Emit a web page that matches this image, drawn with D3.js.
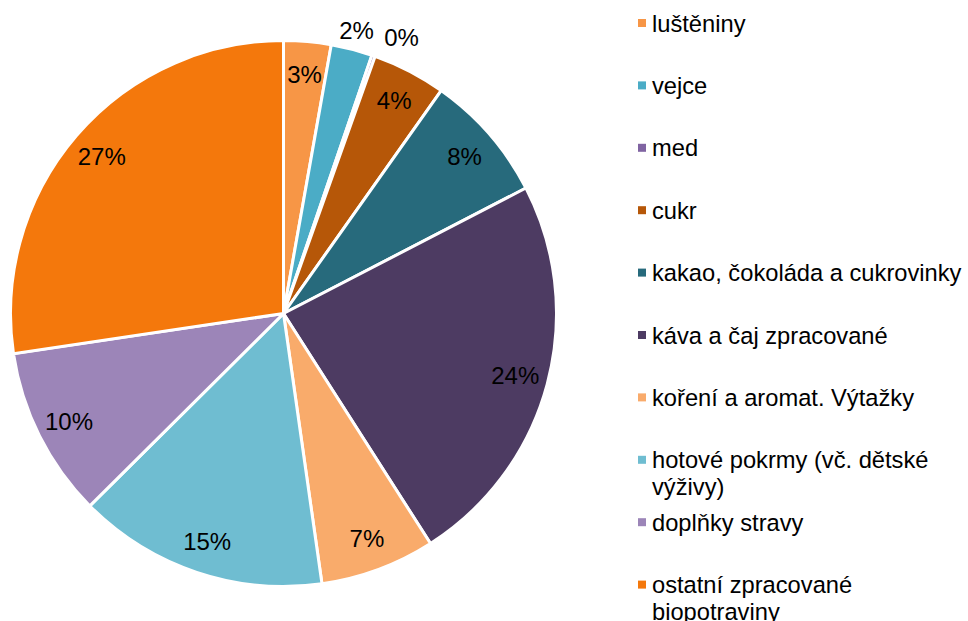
<!DOCTYPE html>
<html>
<head>
  <meta charset="utf-8">
  <title>biopotraviny - podíl</title>
  <script src="https://cdn.jsdelivr.net/npm/d3@7"></script>
  <style type="text/css">
  body {
    margin: 0;
    background: #fff;
  }
  text {
    font-family: Arial, "Liberation Sans", sans-serif;
    fill: #000;
  }
  .slice {
    stroke: #fff;
    stroke-width: 3;
  }
  .pct {
    font-size: 24px;
    text-anchor: middle;
  }
  .legend text {
    font-size: 23.7px;
  }
  </style>
</head>
<body>
  <div id="chart"></div>
<script>
var width = 968,
    height = 621;

// categories, clockwise from 12 o'clock
var categories = [
  "luštěniny",
  "vejce",
  "med",
  "cukr",
  "kakao, čokoláda a cukrovinky",
  "káva a čaj zpracované",
  "koření a aromat. Výtažky",
  "hotové pokrmy (vč. dětské výživy)",
  "doplňky stravy",
  "ostatní zpracované biopotraviny"
];

// share in %
var shares = [2.8, 2.45, 0.2, 4.35, 7.6, 23.55, 6.8, 14.8, 10.1, 27.35];

var colors = [
  "#F79646", "#4BACC6", "#8064A2", "#B65708", "#276A7C",
  "#4D3B62", "#F9AB6B", "#6FBDD1", "#9C85B8", "#F4780C"
];

var cx = 283.5,
    cy = 313.5,
    radius = 273;

var svg = d3.select("#chart").append("svg")
            .attr("width", width)
            .attr("height", height);

var data = categories.map(function(c, i) {
  return {name: c, value: shares[i], color: colors[i]};
});

var pie = d3.pie()
            .sort(null)
            .value(function(d) { return d.value; });

var arc = d3.arc()
            .innerRadius(0)
            .outerRadius(radius);

var arcs = pie(data);

var g = svg.append("g")
           .attr("transform", "translate(" + cx + "," + cy + ")");

g.selectAll("path.slice")
  .data(arcs)
  .enter().append("path")
  .attr("class", "slice")
  .attr("fill", function(d) { return d.data.color; })
  .attr("d", arc);

// percentage labels: inside for big slices, outside for tiny ones
var inner = d3.arc().innerRadius(240).outerRadius(240);
var outer = d3.arc().innerRadius(292).outerRadius(292);
var lastOutX = -Infinity;

g.selectAll("text.pct")
  .data(arcs)
  .enter().append("text")
  .attr("class", "pct")
  .attr("dy", "0.36em")
  .each(function(d) {
    var p;
    if (d.data.value < 2.5) {
      p = outer.centroid(d);
      // keep the small outside labels from colliding
      if (p[0] < lastOutX + 45) p[0] = lastOutX + 45;
      lastOutX = p[0];
    } else {
      p = inner.centroid(d);
    }
    d3.select(this)
      .attr("x", p[0])
      .attr("y", p[1])
      .text(Math.round(d.data.value) + "%");
  });

/* legend */
var legend = svg.append("g").attr("class", "legend");
var legX = 638,
    legY = 31.5,
    rowH = 62.4,
    lineH = 27,
    maxW = 318;

var rows = legend.selectAll("g")
                 .data(data)
                 .enter().append("g")
                 .attr("transform", function(d, i) {
                   return "translate(" + legX + "," + (legY + i * rowH) + ")";
                 });

rows.append("rect")
    .attr("x", 0)
    .attr("y", -12.5)
    .attr("width", 8)
    .attr("height", 8)
    .attr("fill", function(d) { return d.color; });

rows.append("text")
    .attr("x", 14)
    .attr("y", 0)
    .each(function(d) {
      // simple word wrap
      var t = d3.select(this);
      var words = d.name.split(" ");
      var line = [];
      var tspan = t.append("tspan").attr("x", 14).attr("dy", 0);
      words.forEach(function(w) {
        line.push(w);
        tspan.text(line.join(" "));
        if (tspan.node().getComputedTextLength() > maxW && line.length > 1) {
          line.pop();
          tspan.text(line.join(" "));
          line = [w];
          tspan = t.append("tspan").attr("x", 14).attr("dy", lineH).text(w);
        }
      });
    });
</script>
</body>
</html>
